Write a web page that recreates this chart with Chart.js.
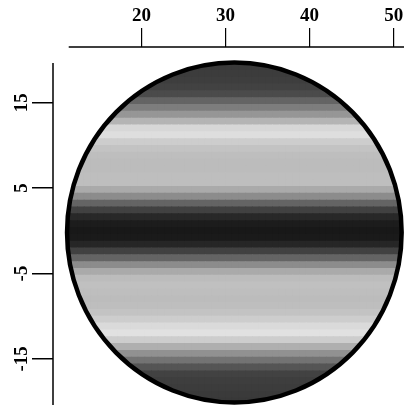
<!DOCTYPE html>
<html><head><meta charset="utf-8">
<script src="https://cdn.jsdelivr.net/npm/chart.js@4/dist/chart.umd.min.js"></script>
<style>html,body{margin:0;padding:0;background:#fff;overflow:hidden}</style>
</head><body>
<canvas id="c" width="404" height="405" style="display:block;width:404px;height:405px"></canvas>
<script>
// ---- data ----
const X_TICKS = [20, 30, 40, 50];
const Y_TICKS = [15, 5, -5, -15];
const X_RANGE = [9.48, 51.23];
const Y_RANGE = [-20.4, 21.52];
const AXIS_X_FROM = [11.35];
const AXIS_Y_FROM = [19.65];
const CELL = [0.8];
const COL_X = [11.2, 12.0, 12.8, 13.6, 14.4, 15.2, 16.0, 16.8, 17.6, 18.4, 19.2, 20.0, 20.8, 21.6, 22.4, 23.2, 24.0, 24.8, 25.6, 26.4, 27.2, 28.0, 28.8, 29.6, 30.4, 31.2, 32.0, 32.8, 33.6, 34.4, 35.2, 36.0, 36.8, 37.6, 38.4, 39.2, 40.0, 40.8, 41.6, 42.4, 43.2, 44.0, 44.8, 45.6, 46.4, 47.2, 48.0, 48.8, 49.6, 50.4, 51.2];
const ROW_Y = [20.0, 19.2, 18.4, 17.6, 16.8, 16.0, 15.2, 14.4, 13.6, 12.8, 12.0, 11.2, 10.4, 9.6, 8.8, 8.0, 7.2, 6.4, 5.6, 4.8, 4.0, 3.2, 2.4, 1.6, 0.8, 0.0, -0.8, -1.6, -2.4, -3.2, -4.0, -4.8, -5.6, -6.4, -7.2, -8.0, -8.8, -9.6, -10.4, -11.2, -12.0, -12.8, -13.6, -14.4, -15.2, -16.0, -16.8, -17.6, -18.4, -19.2, -20.0];
const ROW_GRAY = [56, 58, 60, 62, 66, 75, 100, 125, 150, 180, 215, 222, 205, 195, 190, 188, 188, 190, 190, 170, 140, 100, 65, 40, 28, 24, 26, 38, 65, 100, 140, 170, 188, 192, 190, 188, 190, 195, 205, 218, 225, 205, 175, 145, 115, 85, 66, 62, 60, 58, 56];
const DISK_CENTER = [31.05, -0.2];
const DISK_RADIUS = [19.9];

// ---- build cell table ----
const cells = [];
ROW_Y.forEach((y, r) => COL_X.forEach(x => cells.push({x: x, y: y, v: ROW_GRAY[r]})));

function diskPath(chart) {
  const sx = chart.scales.x, sy = chart.scales.y;
  const cx = sx.getPixelForValue(DISK_CENTER[0]);
  const cy = sy.getPixelForValue(DISK_CENTER[1]);
  const rx = Math.abs(sx.getPixelForValue(DISK_CENTER[0] + DISK_RADIUS[0]) - cx);
  const ry = Math.abs(sy.getPixelForValue(DISK_CENTER[1] + DISK_RADIUS[0]) - cy);
  const ctx = chart.ctx;
  ctx.beginPath();
  ctx.ellipse(cx, cy, rx, ry, 0, 0, Math.PI * 2);
}

const diskPlugin = {
  id: 'disk',
  beforeDatasetDraw(chart, args) {
    if (args.index !== 0) return;
    chart.ctx.save();
    diskPath(chart);
    chart.ctx.clip();
  },
  afterDatasetDraw(chart, args) {
    if (args.index !== 0) return;
    chart.ctx.restore();
  },
  afterDatasetsDraw(chart) {
    const ctx = chart.ctx;
    ctx.save();
    diskPath(chart);
    ctx.lineWidth = 4.5;
    ctx.strokeStyle = '#000';
    ctx.stroke();
    ctx.restore();
  },
  afterDraw(chart) {
    const ctx = chart.ctx, a = chart.chartArea;
    const sx = chart.scales.x, sy = chart.scales.y;
    ctx.save();
    ctx.strokeStyle = '#000';
    ctx.lineWidth = 1.5;
    ctx.beginPath();
    ctx.moveTo(sx.getPixelForValue(AXIS_X_FROM[0]), a.top);
    ctx.lineTo(a.right, a.top);
    ctx.moveTo(a.left, sy.getPixelForValue(AXIS_Y_FROM[0]));
    ctx.lineTo(a.left, a.bottom);
    ctx.stroke();
    ctx.restore();
  }
};

const tickFont = {family: '"Liberation Serif", serif', size: 19, weight: 'bold'};

new Chart(document.getElementById('c'), {
  type: 'scatter',
  data: {
    datasets: [{
      data: cells,
      pointStyle: 'rect',
      borderWidth: 0,
      backgroundColor: c => { const v = c.raw ? c.raw.v : 0; return 'rgb(' + v + ',' + v + ',' + v + ')'; },
      pointRadius: c => {
        const s = c.chart.scales;
        if (!s.x || !s.y) return 3;
        const w = Math.abs(s.x.getPixelForValue(CELL[0]) - s.x.getPixelForValue(0));
        const h = Math.abs(s.y.getPixelForValue(CELL[0]) - s.y.getPixelForValue(0));
        return (Math.max(w, h) + 0.8) / Math.SQRT2;
      }
    }]
  },
  options: {
    responsive: false,
    animation: false,
    events: [],
    layout: {padding: 0},
    plugins: {legend: {display: false}, tooltip: {enabled: false}},
    scales: {
      x: {
        type: 'linear', position: 'top', min: X_RANGE[0], max: X_RANGE[1],
        afterBuildTicks: s => { s.ticks = X_TICKS.map(v => ({value: v})); },
        afterFit: s => { s.height = 47; s.paddingLeft = 0; s.paddingRight = 0; },
        border: {display: false},
        grid: {drawOnChartArea: false, drawTicks: true, tickLength: 19, color: '#000', tickColor: '#000', lineWidth: 1.2},
        ticks: {font: tickFont, color: '#000', padding: 1, maxRotation: 0, autoSkip: false}
      },
      y: {
        type: 'linear', position: 'left', min: Y_RANGE[0], max: Y_RANGE[1],
        afterBuildTicks: s => { s.ticks = Y_TICKS.map(v => ({value: v})); },
        afterFit: s => { s.width = 53; s.paddingTop = 0; s.paddingBottom = 0; },
        border: {display: false},
        grid: {drawOnChartArea: false, drawTicks: true, tickLength: 21, color: '#000', tickColor: '#000', lineWidth: 1.5},
        ticks: {font: tickFont, color: '#000', padding: -3, minRotation: 90, maxRotation: 90, crossAlign: 'center', autoSkip: false}
      }
    }
  },
  plugins: [diskPlugin]
});
</script>
</body></html>
